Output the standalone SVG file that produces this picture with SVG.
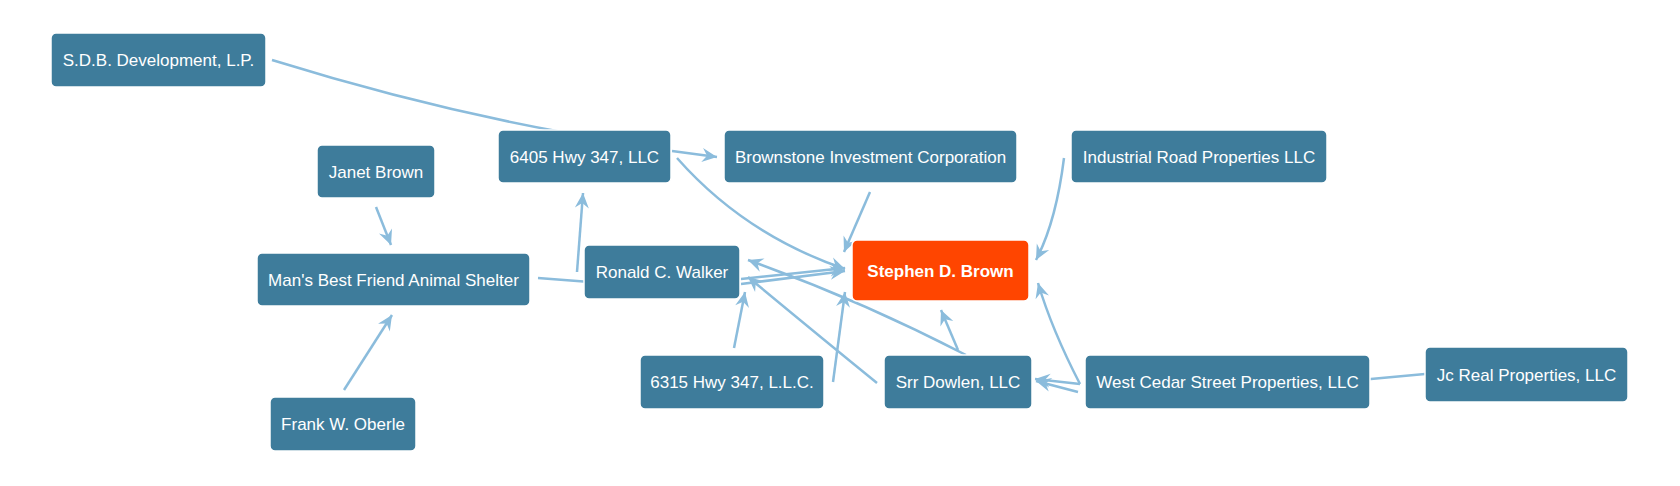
<svg xmlns="http://www.w3.org/2000/svg" width="1680" height="486" viewBox="0 0 1680 486">
<style>
.node rect{fill:#3e7c9b;stroke:#ffffff;stroke-width:1.5}
.node.focus rect{fill:#ff4500}
.node text{fill:#ffffff;font-family:"Liberation Sans",Arial,sans-serif;font-size:17px;text-anchor:middle}
.node.focus text{font-weight:bold}
.edges path{fill:none;stroke:#8bbcdc;stroke-width:2.5}
.edges path.arr{marker-end:url(#arrow)}
</style>
<defs>
<marker id="arrow" markerUnits="userSpaceOnUse" viewBox="-16 -8 18 16" refX="0" refY="0" markerWidth="18" markerHeight="16" orient="auto">
<path d="M0,0 L-15,-7 L-10,0 L-15,7 Z" fill="#8bbcdc"/>
</marker>
</defs>
<rect width="1680" height="486" fill="#ffffff"/>
<g id="connectors" class="edges">
<path d="M272,60 Q420,106 562,132"/>
<path class="arr" d="M672,151 L717,157"/>
<path class="arr" d="M677,158 Q745,235 845,269"/>
<path class="arr" d="M870,192 L844,252"/>
<path class="arr" d="M1064,158 Q1056,222 1036,260"/>
<path class="arr" d="M376,207 L391,245"/>
<path class="arr" d="M344,390 L392,315"/>
<path d="M538,278 L590,282"/>
<path class="arr" d="M577,272 L583,193"/>
<path class="arr" d="M741,284 L845,271"/>
<path class="arr" d="M741,279 L845,268"/>
<path class="arr" d="M734,348 L745,292"/>
<path class="arr" d="M833,382 L845,292"/>
<path class="arr" d="M877,383 Q818,335 748,277"/>
<path class="arr" d="M966,355 Q860,300 748,260"/>
<path class="arr" d="M958,350 L941,310"/>
<path class="arr" d="M1080,384 Q1052,330 1038,283"/>
<path class="arr" d="M1080,384 L1035,379"/>
<path class="arr" d="M1078,392 L1036,381"/>
<path d="M1425,374 L1360,380"/>
</g>
<g id="node-sdb" class="node"><rect x="51" y="33" width="215" height="54" rx="5"/><text x="158.5" y="66">S.D.B. Development, L.P.</text></g>
<g id="node-janet" class="node"><rect x="317" y="145" width="118" height="53" rx="5"/><text x="376" y="177.5">Janet Brown</text></g>
<g id="node-6405" class="node"><rect x="498" y="130" width="173" height="53" rx="5"/><text x="584.5" y="162.5">6405 Hwy 347, LLC</text></g>
<g id="node-brownstone" class="node"><rect x="724" y="130" width="293" height="53" rx="5"/><text x="870.5" y="162.5">Brownstone Investment Corporation</text></g>
<g id="node-industrial" class="node"><rect x="1071" y="130" width="256" height="53" rx="5"/><text x="1199" y="162.5">Industrial Road Properties LLC</text></g>
<g id="node-mansbest" class="node"><rect x="257" y="253" width="273" height="53" rx="5"/><text x="393.5" y="285.5">Man's Best Friend Animal Shelter</text></g>
<g id="node-ronald" class="node"><rect x="584" y="245" width="156" height="54" rx="5"/><text x="662" y="278">Ronald C. Walker</text></g>
<g id="node-stephen" class="node focus"><rect x="852" y="240" width="177" height="61" rx="5"/><text x="940.5" y="276.5">Stephen D. Brown</text></g>
<g id="node-6315" class="node"><rect x="640" y="355" width="184" height="54" rx="5"/><text x="732" y="388">6315 Hwy 347, L.L.C.</text></g>
<g id="node-srr" class="node"><rect x="884" y="355" width="148" height="54" rx="5"/><text x="958" y="388">Srr Dowlen, LLC</text></g>
<g id="node-westcedar" class="node"><rect x="1085" y="355" width="285" height="54" rx="5"/><text x="1227.5" y="388">West Cedar Street Properties, LLC</text></g>
<g id="node-jcreal" class="node"><rect x="1425" y="347" width="203" height="55" rx="5"/><text x="1526.5" y="380.5">Jc Real Properties, LLC</text></g>
<g id="node-frank" class="node"><rect x="270" y="397" width="146" height="54" rx="5"/><text x="343" y="430">Frank W. Oberle</text></g>
</svg>
